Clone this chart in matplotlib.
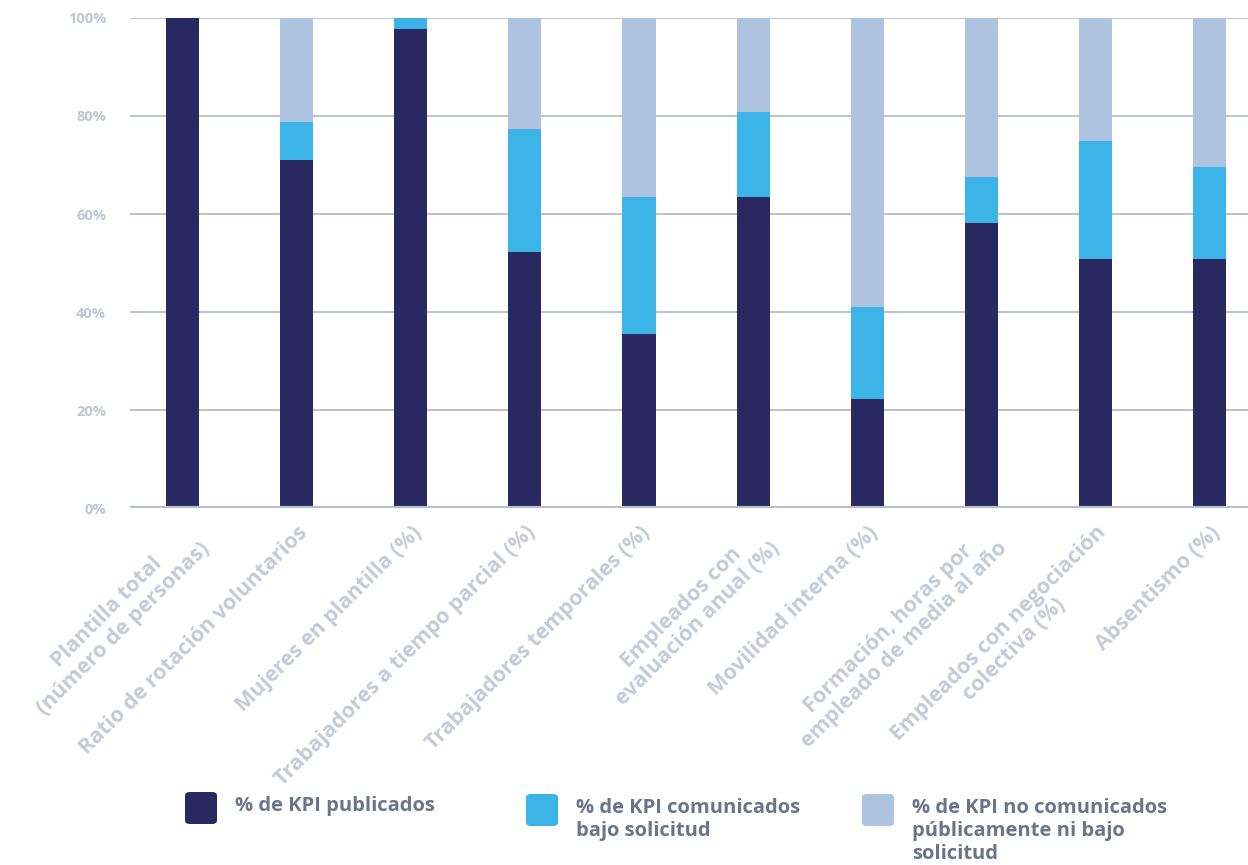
import matplotlib.pyplot as plt
from matplotlib.patches import FancyBboxPatch
import numpy as np

# datos
categorias = [
    'Plantilla total\n(número de personas)',
    'Ratio de rotación voluntarios',
    'Mujeres en plantilla (%)',
    'Trabajadores a tiempo parcial (%)',
    'Trabajadores temporales (%)',
    'Empleados con\nevaluación anual (%)',
    'Movilidad interna (%)',
    'Formación, horas por\nempleado de media al año',
    'Empleados con negociación\ncolectiva (%)',
    'Absentismo (%)',
]
publicados = [100, 71.0, 97.8, 52.2, 35.5, 63.5, 22.2, 58.2, 50.8, 50.8]
bajo_solicitud = [0, 7.8, 2.2, 25.1, 28.0, 17.3, 18.8, 9.4, 24.1, 18.8]
no_comunicados = [0, 21.2, 0, 22.7, 36.5, 19.2, 59.0, 32.4, 25.1, 30.4]
series_labels = ['% de KPI publicados',
                 '% de KPI comunicados\nbajo solicitud',
                 '% de KPI no comunicados\npúblicamente ni bajo\nsolicitud']
colores = ['#2a2860', '#3db4e8', '#adc3df']

plt.rcParams['font.family'] = ['Open Sans', 'DejaVu Sans']

fig = plt.figure(figsize=(12.48, 8.65), dpi=100)
ax = fig.add_axes([0.104, 0.4127, 0.896, 0.5665])

x = np.arange(len(categorias))
w = 0.29
ax.bar(x, publicados, w, color=colores[0], zorder=3)
ax.bar(x, bajo_solicitud, w, bottom=publicados, color=colores[1], zorder=3)
bottom2 = np.array(publicados) + np.array(bajo_solicitud)
ax.bar(x, no_comunicados, w, bottom=bottom2, color=colores[2], zorder=3)

ax.set_ylim(0, 100)
ax.set_xlim(-0.465, 9.34)
ax.set_yticks([0, 20, 40, 60, 80, 100])
ax.set_yticklabels(['0%', '20%', '40%', '60%', '80%', '100%'])
for y in [20, 40, 60, 80, 100]:
    ax.axhline(y, color='#bcc2ce', lw=1.4, zorder=1)
ax.axhline(0, color='#b8bfcc', lw=3, zorder=4)

for s in ax.spines.values():
    s.set_visible(False)
ax.tick_params(axis='both', length=0)
ax.tick_params(axis='y', pad=17, labelsize=10.5, labelcolor='#bfc5d1')
for t in ax.get_yticklabels():
    t.set_fontweight('bold')

ax.set_xticks(x)
ax.set_xticklabels(categorias, rotation=45, ha='right', rotation_mode='anchor',
                   multialignment='center', fontsize=15.5, fontweight='bold',
                   color='#c5cad6', linespacing=1.1)
ax.tick_params(axis='x', pad=10)

# leyenda
xs_box = [185, 526, 862]
ys_box = [792, 794, 794]
W, H = 1248, 865
for i in range(3):
    fig.add_artist(FancyBboxPatch(
        (xs_box[i] / W, 1 - (ys_box[i] + 32) / H), 32 / W, 32 / H,
        boxstyle='round,pad=0,rounding_size=0.004', transform=fig.transFigure,
        facecolor=colores[i], edgecolor='none'))
    fig.text((xs_box[i] + 50) / W, 1 - (ys_box[i] + 4) / H, series_labels[i],
             ha='left', va='top', fontsize=14.5, fontweight='bold',
             color='#6b7488', linespacing=1.2)

plt.savefig('out.png', dpi=100)
